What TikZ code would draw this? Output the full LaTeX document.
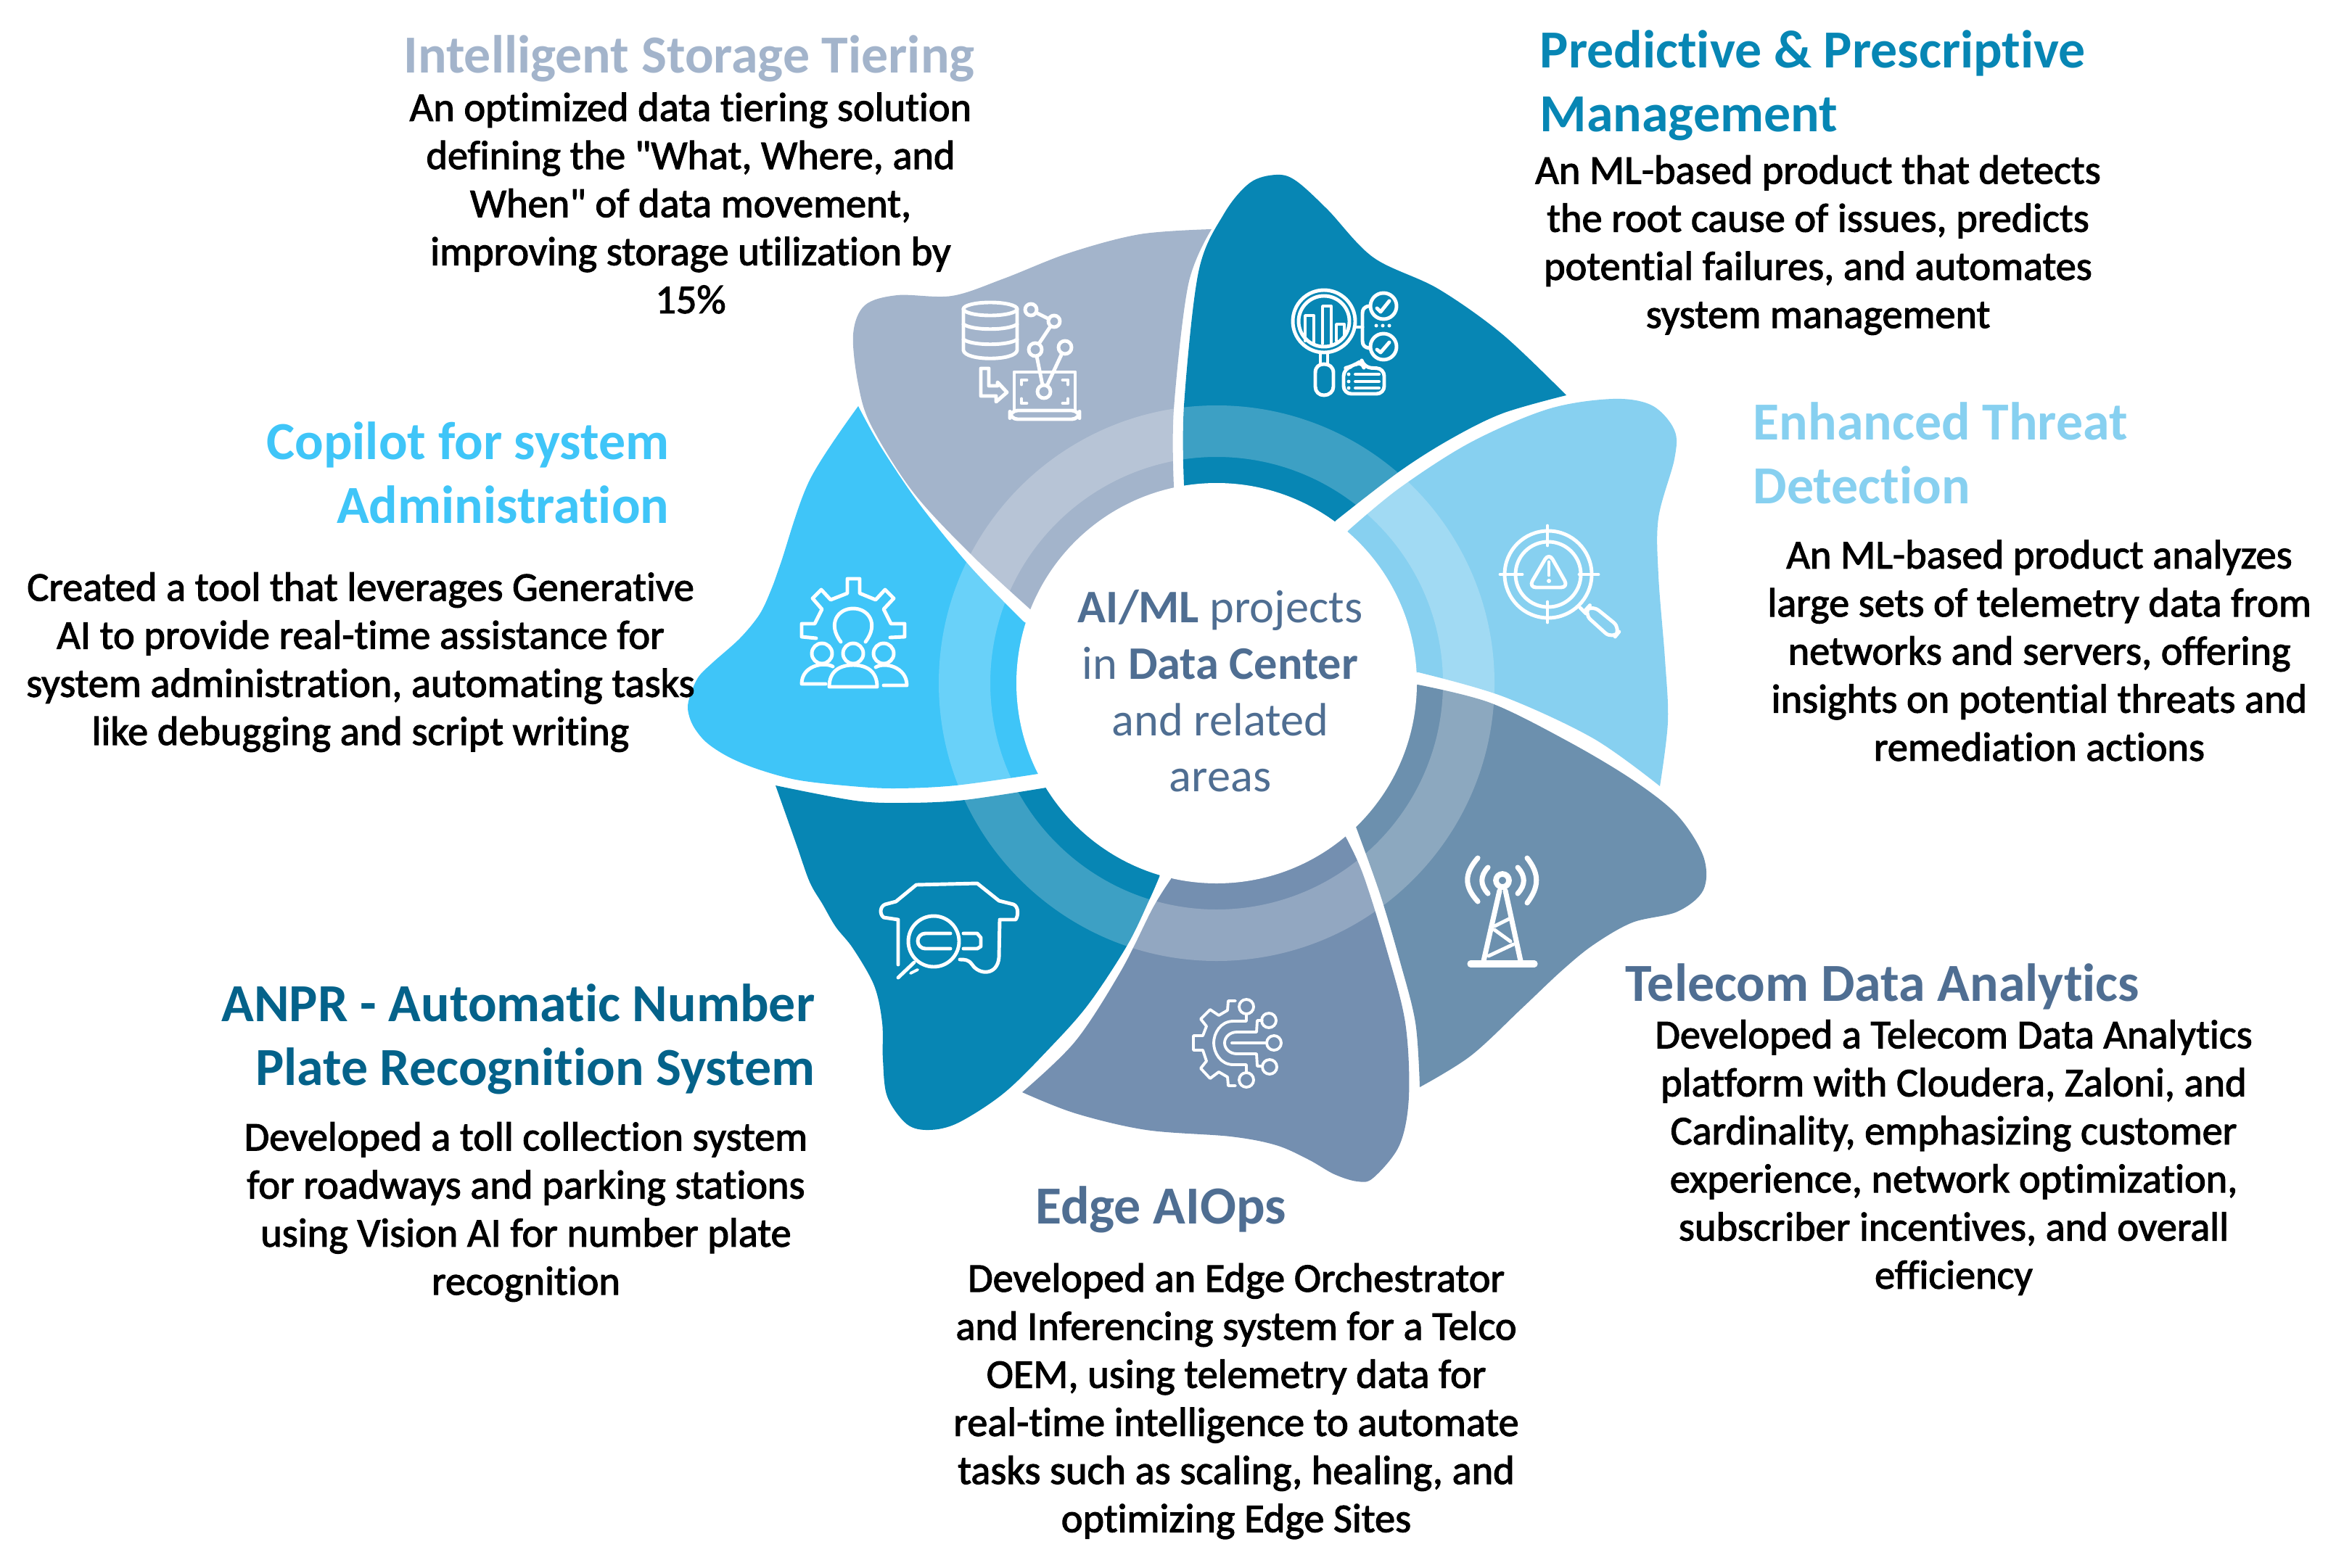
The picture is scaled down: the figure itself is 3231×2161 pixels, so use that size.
\documentclass[tikz,border=0pt]{standalone}
\usepackage{fontspec}
\setmainfont[Ligatures=NoCommon]{Carlito}
\newfontfamily\bodyfont[Ligatures=NoCommon,FakeBold=2]{Carlito}
\definecolor{tealblue}{HTML}{0786B4}
\definecolor{greyblue}{HTML}{A3B4CB}
\definecolor{paleblue}{HTML}{87D0F0}
\definecolor{skyblue}{HTML}{3FC5F8}
\definecolor{slateblue}{HTML}{6C90AE}
\definecolor{steelblue}{HTML}{748FB0}
\definecolor{slatetext}{HTML}{4F6E92}
\definecolor{deepteal}{HTML}{04628A}
\tikzset{
  head/.style={inner sep=0,font=\fontsize{21}{25}\selectfont\bfseries},
  body/.style={inner sep=0,align=center,text=black,font=\bodyfont\fontsize{16}{18.85}\selectfont},
  icon/.style={draw=white,line width=1.4pt,line join=round,line cap=round},
  thin icon/.style={icon,line width=1.1pt},
  curve/.style={smooth,tension=.55}
}
\begin{document}
\begin{tikzpicture}[x=0.01cm,y=-0.01cm]
\useasboundingbox (0,0) rectangle (3231,2161);
\coordinate (centre) at (1677,942);

%\draw petals
\fill[tealblue] plot[curve] coordinates {(1632,668) (1632,559) (1652,375) (1687,295) (1723,252) (1759,241) (1786,249) (1830,289) (1893,355) (1982,398) (2071,461) (2159,545)}
  -- plot[curve] coordinates {(2159,545) (2071,570) (2000,605) (1929,650) (1841,718)} -- (centre) -- cycle;
\fill[greyblue] plot[curve] coordinates {(1670,316) (1638,392) (1618,564) (1618,671)} -- (centre) -- (1420,840)
  -- plot[curve] coordinates {(1420,840) (1339,765) (1259,679) (1201,587) (1183,530) (1176,461) (1192,421) (1237,407) (1312,408) (1384,384) (1473,349) (1571,323) (1670,316)} -- cycle;
\fill[paleblue] plot[curve] coordinates {(1859,731) (1929,673) (2027,610) (2134,564) (2223,550) (2277,559) (2308,593) (2308,633) (2286,714) (2286,794) (2295,909) (2299,995) (2288,1084)}
  -- plot[curve] coordinates {(2288,1084) (2196,1018) (2071,960) (1955,927)} -- (centre) -- cycle;
\fill[slateblue] plot[curve] coordinates {(1954,944) (2054,969) (2161,1022) (2250,1075) (2312,1124) (2348,1181) (2348,1227) (2312,1257) (2250,1272) (2196,1303) (2152,1339) (2098,1390) (2027,1456) (1957,1499)}
  -- plot[curve] coordinates {(1957,1499) (1951,1410) (1929,1323) (1902,1232) (1869,1140)} -- (centre) -- cycle;
\fill[steelblue] plot[curve] coordinates {(1855,1154) (1879,1206) (1911,1308) (1937,1410) (1942,1512) (1929,1579) (1893,1624) (1871,1629) (1839,1619) (1804,1599) (1759,1579) (1696,1567) (1580,1558) (1482,1535) (1409,1506)}
  -- plot[curve] coordinates {(1409,1506) (1482,1436) (1545,1339) (1589,1252) (1614,1212)} -- (centre) -- cycle;
\fill[tealblue] plot[curve] coordinates {(1069,1083) (1179,1104) (1250,1107) (1330,1103) (1442,1086)} -- (centre) -- (1598,1209)
  -- plot[curve] coordinates {(1598,1209) (1585,1239) (1554,1303) (1500,1385) (1446,1446) (1384,1507) (1321,1548) (1281,1558) (1250,1550) (1223,1512) (1217,1461) (1216,1410) (1205,1359) (1176,1308) (1152,1278) (1134,1247) (1116,1216) (1098,1165) (1069,1083)} -- cycle;
\fill[skyblue] plot[curve] coordinates {(1183,560) (1214,616) (1268,696) (1339,783) (1412,858)} -- (centre) -- (1431,1067)
  -- plot[curve] coordinates {(1431,1067) (1317,1083) (1230,1087) (1163,1083) (1097,1075) (1043,1060) (1003,1043) (973,1023) (955,1000) (948,977) (952,957) (963,933) (983,913) (1020,880) (1047,847) (1063,813) (1076,777) (1116,662) (1183,560)} -- cycle;

%\draw ring and centre
\fill[white,opacity=.22,even odd rule] (centre) circle (383) (centre) circle (312);
\fill[white] (centre) circle (276);
\node[inner sep=0,align=center,text=slatetext,font=\fontsize{18.3}{22.1}\selectfont] (centretext) at (1682,953)
  {\textbf{AI/ML} projects\\in \textbf{Data Center}\\and related\\areas};

%-------------------------------------
\node[head,text=greyblue] (storagehead) at (950,81) {Intelligent Storage Tiering};
\node[body] (storagetext) at (952,280) {An optimized data tiering solution\\defining the "What, Where, and\\When" of data movement,\\improving storage utilization by\\15\%};

\node[head,text=tealblue,align=left,anchor=west] (predicthead) at (2122,118) {Predictive \& Prescriptive\\Management};
\node[body] (predicttext) at (2506,338) {An ML-based product that detects\\the root cause of issues, predicts\\potential failures, and automates\\system management};

\node[head,text=paleblue,align=left,anchor=west] (threathead) at (2416,625) {Enhanced Threat\\Detection};
\node[body] (threattext) at (2811,897) {An ML-based product analyzes\\large sets of telemetry data from\\networks and servers, offering\\insights on potential threats and\\remediation actions};

\node[head,text=slatetext,anchor=west] (telecomhead) at (2240,1360) {Telecom Data Analytics};
\node[body] (telecomtext) at (2693,1596) {Developed a Telecom Data Analytics\\platform with Cloudera, Zaloni, and\\Cardinality, emphasizing customer\\experience, network optimization,\\subscriber incentives, and overall\\efficiency};

\node[head,text=slatetext] (edgehead) at (1600,1668) {Edge AIOps};
\node[body] (edgetext) at (1704,1932) {Developed an Edge Orchestrator\\and Inferencing system for a Telco\\OEM, using telemetry data for\\real-time intelligence to automate\\tasks such as scaling, healing, and\\optimizing Edge Sites};

\node[head,text=deepteal,align=right,anchor=east] (anprhead) at (1124,1433) {ANPR - Automatic Number\\Plate Recognition System};
\node[body] (anprtext) at (725,1671) {Developed a toll collection system\\for roadways and parking stations\\using Vision AI for number plate\\recognition};

\node[head,text=skyblue,align=right,anchor=east] (copilothead) at (923,652) {Copilot for system\\Administration};
\node[body] (copilottext) at (497,913) {Created a tool that leverages Generative\\AI to provide real-time assistance for\\system administration, automating tasks\\like debugging and script writing};

%-------------------------------------
%\draw storage icon
\draw[icon] (1365,426) ellipse (37 and 9);
\draw[icon] (1328,426) -- (1328,483) .. controls (1330,498) and (1400,498) .. (1402,483) -- (1402,426);
\draw[icon] (1328,447) .. controls (1340,456) and (1390,456) .. (1402,447);
\draw[icon] (1328,468) .. controls (1340,477) and (1390,477) .. (1402,468);
\draw[icon] (1421,427) circle (8);
\draw[icon] (1453,443) circle (8);
\draw[icon] (1427,482) circle (9);
\draw[icon] (1468,479) circle (9);
\draw[icon] (1439,540) circle (9);
\draw[icon] (1428,431) -- (1446,440);
\draw[icon] (1448,450) -- (1432,474);
\draw[icon] (1429,491) -- (1437,531);
\draw[icon] (1464,487) -- (1443,532);
\draw[icon] (1398,565) -- (1398,513) -- (1482,513) -- (1482,565);
\draw[icon,rounded corners=3] (1392,566) rectangle (1488,578);
\draw[icon] (1352,508) -- (1363,508) -- (1363,532) -- (1375,532) -- (1375,527) -- (1388,541) -- (1373,554) -- (1373,546) -- (1352,546) -- cycle;
\draw[icon] (1408,530) -- (1408,524) -- (1415,524);
\draw[icon] (1465,524) -- (1472,524) -- (1472,530);
\draw[icon] (1408,550) -- (1408,556) -- (1415,556);
\draw[icon] (1465,556) -- (1472,556) -- (1472,550);

%\draw predictive icon
\draw[icon] (1825,443) circle (43);
\draw[icon] (1825,443) circle (35);
\draw[thin icon] (1799,470) -- (1799,435) -- (1811,435) -- (1811,472);
\draw[thin icon] (1823,474) -- (1823,422) -- (1835,422) -- (1835,474);
\draw[thin icon] (1842,470) -- (1842,447) -- (1853,447) -- (1853,462);
\draw[icon] (1820,487) -- (1820,502);
\draw[icon] (1830,487) -- (1830,502);
\draw[icon] (1813,514) .. controls (1813,506) and (1818,502) .. (1825,502) .. controls (1832,502) and (1838,506) .. (1838,514) -- (1838,533) .. controls (1838,540) and (1832,545) .. (1825,545) .. controls (1818,545) and (1813,540) .. (1813,533) -- cycle;
\draw[icon] (1867,451) -- (1878,451);
\draw[icon] (1887,422) .. controls (1880,423) and (1878,427) .. (1878,432) -- (1878,470) .. controls (1878,476) and (1881,479) .. (1887,480);
\draw[icon] (1907,422) circle (18);
\draw[icon] (1907,478) circle (18);
\draw[icon] (1898,425) -- (1903,430) -- (1915,415);
\draw[icon] (1898,482) -- (1903,486) -- (1915,472);
\fill[white] (1897,449) circle (2.5);
\fill[white] (1906,449) circle (2.5);
\fill[white] (1915,449) circle (2.5);
\draw[icon,rounded corners=3] (1852,543) -- (1852,508) -- (1865,505) -- (1877,497) -- (1880,507) -- (1908,508) -- (1908,543) -- cycle;
\draw[thin icon] (1868,516) -- (1901,516);
\draw[thin icon] (1868,526) -- (1901,526);
\draw[thin icon] (1868,535) -- (1901,535);
\fill[white] (1859,516) circle (2.5);
\fill[white] (1859,526) circle (2.5);
\fill[white] (1859,535) circle (2.5);

%\draw threat icon
\draw[icon] (2134,792) circle (60);
\draw[icon] (2134,792) circle (45);
\draw[icon] (2133,725) -- (2133,752);
\draw[icon] (2133,830) -- (2133,858);
\draw[icon] (2068,792) -- (2098,792);
\draw[icon] (2177,792) -- (2203,792);
\draw[icon,rounded corners=3] (2135,762) -- (2162,810) -- (2107,810) -- cycle;
\draw[icon] (2135,775) -- (2135,793);
\fill[white] (2135,801) circle (3);
\draw[icon] (2178,838) -- (2186,846);
\draw[icon,rounded corners=4] (2193,833) -- (2235,867) -- (2223,882) -- (2182,845) -- cycle;

%\draw copilot icon
\draw[icon] (1125,880) -- (1105,878) -- (1105,860) -- (1123,860) -- (1133,840) -- (1120,825) -- (1132,813) -- (1145,827) -- (1168,818) -- (1168,798) -- (1185,798) -- (1185,818) -- (1207,827) -- (1220,813) -- (1232,825) -- (1218,840) -- (1228,860) -- (1247,860) -- (1247,878) -- (1227,879);
\draw[icon] (1159,885) .. controls (1140,860) and (1155,839) .. (1176,839) .. controls (1197,839) and (1212,860) .. (1193,885);
\draw[icon] (1133,901) circle (14);
\draw[icon] (1176,901) circle (14);
\draw[icon] (1218,901) circle (14);
\draw[icon] (1143,947) .. controls (1143,925) and (1158,917) .. (1176,917) .. controls (1194,917) and (1209,925) .. (1209,947) -- cycle;
\draw[icon] (1148,919) .. controls (1135,912) and (1105,918) .. (1105,943) -- (1138,943);
\draw[icon] (1207,920) .. controls (1220,912) and (1250,920) .. (1250,945) -- (1218,945);

%\draw anpr icon
\draw[icon] (1238,1330) -- (1238,1268) -- (1218,1265) .. controls (1212,1260) and (1213,1250) .. (1220,1247) -- (1235,1243) -- (1263,1220) -- (1347,1218) -- (1377,1242) -- (1397,1247) .. controls (1404,1250) and (1404,1262) .. (1400,1268) -- (1378,1268) -- (1377,1320) .. controls (1375,1345) and (1350,1345) .. (1340,1330) .. controls (1335,1323) and (1330,1323) .. (1323,1323);
\draw[icon] (1287,1298) circle (35);
\draw[icon,rounded corners=3] (1310,1287) -- (1265,1287) -- (1265,1308) -- (1310,1308);
\draw[icon] (1328,1287) -- (1347,1287) -- (1352,1293) -- (1352,1305) -- (1347,1308) -- (1328,1308);
\draw[icon] (1260,1327) -- (1238,1348);
\draw[thin icon] (1255,1342) -- (1265,1337);

%\draw edge icon
\draw[thin icon] (1703,1380) -- (1693,1380) -- (1692,1393) -- (1680,1400) -- (1668,1392) -- (1655,1405) -- (1663,1415) -- (1658,1428) -- (1645,1428) -- (1645,1448) -- (1658,1448) -- (1663,1463) -- (1655,1473) -- (1668,1487) -- (1680,1478) -- (1692,1485) -- (1693,1497) -- (1703,1497);
\draw[thin icon] (1718,1388) circle (10);
\draw[thin icon] (1718,1489) circle (10);
\draw[thin icon] (1749,1407) circle (10);
\draw[thin icon] (1750,1471) circle (10);
\draw[thin icon] (1756,1438) circle (10);
\draw[thin icon] (1718,1398) -- (1718,1408) -- (1700,1408) .. controls (1682,1408) and (1673,1425) .. (1673,1438) .. controls (1673,1451) and (1682,1468) .. (1700,1468) -- (1718,1468) -- (1718,1479);
\draw[thin icon] (1740,1407) -- (1733,1407) -- (1732,1423) -- (1705,1423) .. controls (1695,1423) and (1688,1430) .. (1688,1438) .. controls (1688,1446) and (1695,1453) .. (1705,1453) -- (1732,1453) -- (1733,1470) -- (1740,1470);
\draw[thin icon] (1698,1438) -- (1746,1438);

%\draw telecom icon
\draw[icon,line width=2.2pt] (2071,1214) circle (9);
\draw[icon,line width=2pt] (2067,1228) -- (2045,1325);
\draw[icon,line width=2pt] (2075,1228) -- (2096,1325);
\draw[icon,line width=2.6pt] (2027,1329) -- (2115,1329);
\draw[icon] (2060,1277) -- (2080,1267);
\draw[icon] (2060,1282) -- (2082,1298);
\draw[icon] (2052,1318) -- (2086,1302);
\draw[icon,line width=2pt] (2037,1183) .. controls (2018,1205) and (2018,1222) .. (2037,1243);
\draw[icon,line width=2pt] (2051,1196) .. controls (2040,1208) and (2040,1220) .. (2051,1232);
\draw[icon,line width=2pt] (2092,1196) .. controls (2103,1208) and (2103,1220) .. (2092,1232);
\draw[icon,line width=2pt] (2105,1183) .. controls (2122,1205) and (2122,1222) .. (2105,1245);
\end{tikzpicture}
\end{document}
